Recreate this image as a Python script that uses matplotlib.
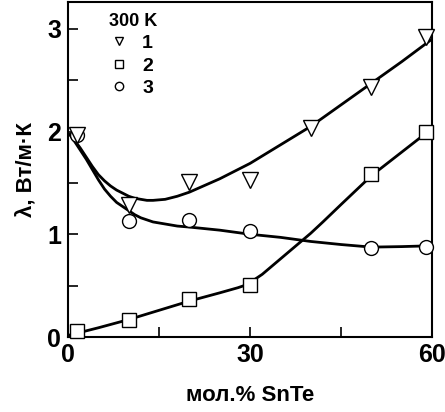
import matplotlib
matplotlib.use("Agg")
import matplotlib.pyplot as plt
from matplotlib.lines import Line2D

plt.rcParams['font.family'] = ['Liberation Sans', 'DejaVu Sans']
plt.rcParams['font.weight'] = 'bold'

# measured points (mol.% SnTe, lambda W/m.K)
x1 = [1.5, 10, 20, 30, 40, 50, 59]
y1 = [1.97, 1.28, 1.51, 1.53, 2.03, 2.43, 2.92]
x2 = [1.5, 10, 20, 30, 50, 59]
y2 = [0.06, 0.17, 0.37, 0.51, 1.59, 2.0]
x3 = [1.5, 10, 20, 30, 50, 59]
y3 = [1.97, 1.13, 1.14, 1.03, 0.87, 0.88]

# fitted curves
cx1 = [0.3, 1, 2, 3, 4, 5, 6, 7, 8, 9, 10, 11, 12, 13, 14, 16, 18, 20, 25,
       30, 35, 40, 45, 50, 55, 60]
cy1 = [1.97, 1.92, 1.84, 1.75, 1.66, 1.58, 1.52, 1.47, 1.43, 1.40, 1.37, 1.35,
       1.34, 1.33, 1.33, 1.34, 1.37, 1.41, 1.54, 1.69, 1.87, 2.05, 2.26, 2.47,
       2.68, 2.90]
cx2 = [0.3, 5, 10, 15, 20, 25, 28, 29, 30, 31, 32, 33, 34, 35, 36, 38, 40, 42,
       45, 50, 55, 60]
cy2 = [0.02, 0.09, 0.17, 0.26, 0.35, 0.43, 0.48, 0.50, 0.53, 0.57, 0.61, 0.66,
       0.71, 0.76, 0.81, 0.91, 1.01, 1.12, 1.29, 1.57, 1.80, 2.03]
cx3 = [0.3, 1, 2, 3, 4, 5, 6, 7, 8, 9, 10, 11, 12, 13, 14, 16, 18, 20, 25, 30,
       35, 40, 45, 50, 55, 58, 60]
cy3 = [1.97, 1.91, 1.82, 1.73, 1.63, 1.53, 1.44, 1.37, 1.31, 1.27, 1.23, 1.19,
       1.16, 1.14, 1.12, 1.10, 1.08, 1.07, 1.04, 1.00, 0.97, 0.93, 0.90, 0.875,
       0.88, 0.885, 0.89]

labels = ['1', '2', '3']

fig = plt.figure(figsize=(4.45, 4.12), dpi=100)
ax = fig.add_axes([0.153, 0.182, 0.818, 0.813])

for cx, cy in [(cx1, cy1), (cx2, cy2), (cx3, cy3)]:
    ax.plot(cx, cy, color='black', lw=2, zorder=2)

ax.plot(x3, y3, 'o', ms=10, mfc='white', mec='black', mew=1, zorder=3, clip_on=False)
ax.plot(x2, y2, 's', ms=9.5, mfc='white', mec='black', mew=1, zorder=3, clip_on=False)
ax.plot(x1, y1, 'v', ms=11, mfc='white', mec='black', mew=1, zorder=3, clip_on=False)

ax.set_xlim(0, 60)
ax.set_ylim(0, 3.26)
ax.set_xticks([0, 30, 60])
ax.set_xticks([15, 45], minor=True)
ax.set_yticks([0, 1, 2, 3])
ax.set_yticks([0.5, 1.5, 2.5], minor=True)
ax.tick_params(which='both', direction='in', length=7, width=1.2,
               labelsize=18, top=False, right=False)
ax.tick_params(axis='x', pad=4)
ax.tick_params(axis='y', pad=5)
for s in ax.spines.values():
    s.set_linewidth(1.5)

ax.set_xlabel('мол.% SnTe', fontsize=16, fontweight='bold', labelpad=13)
ax.set_ylabel('λ, Вт/м·К', fontsize=16, fontweight='bold', labelpad=8)

handles = [Line2D([], [], ls='none', marker=m, ms=6, mfc='white', mec='black', mew=1)
           for m in ['v', 's', 'o']]
leg = ax.legend(handles, labels, title='300 K', loc='upper left',
                bbox_to_anchor=(0.07, 1.015), frameon=False, fontsize=14,
                title_fontproperties={'weight': 'bold', 'size': 13},
                handlelength=1.0, handletextpad=0.7, labelspacing=0.25,
                borderpad=0.3)
leg._legend_box.align = 'left'

fig.savefig('out.png', dpi=100)
